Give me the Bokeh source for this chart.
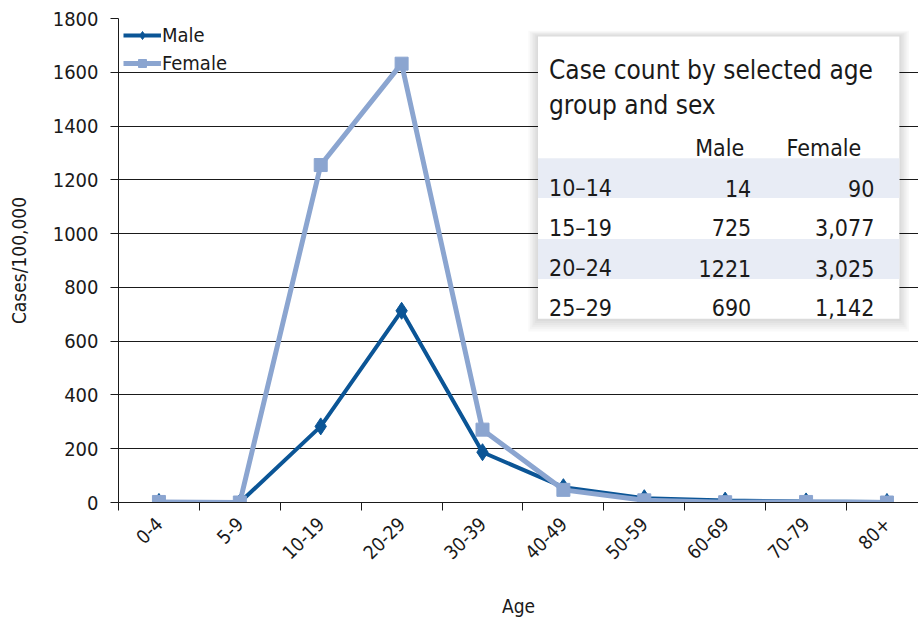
from bokeh.plotting import figure
from bokeh.models import (Range1d, FixedTicker, Legend, LegendItem, ColumnDataSource)
from bokeh.core.properties import value
from bokeh.embed import file_html
from bokeh.resources import INLINE
import math

# ---- data ----
age_groups = ["0-4", "5-9", "10-19", "20-29", "30-39", "40-49", "50-59", "60-69", "70-79", "80+"]
male_rate = [2, 0, 283, 713, 187, 57, 16, 7, 4, 2]
female_rate = [2, 0, 1255, 1632, 271, 47, 8, 1, 2, 0]
y_ticks = [0, 200, 400, 600, 800, 1000, 1200, 1400, 1600, 1800]

table_title = ["Case count by selected age", "group and sex"]
table_columns = ["Male", "Female"]
table_rows = ["10\u201314", "15\u201319", "20\u201324", "25\u201329"]
table_male = ["14", "725", "1221", "690"]
table_female = ["90", "3,077", "3,025", "1,142"]

FONT = "DejaVu Sans Condensed"
MALE_C = "#0b5596"
FEMALE_C = "#8ba5d0"
INK = "#1a1a1a"

xs = list(range(len(age_groups)))

p = figure(width=918, height=619, output_backend="svg", toolbar_location=None,
           x_range=Range1d(-0.5, 9.39), y_range=Range1d(0, 1800),
           min_border_left=118, min_border_right=0, min_border_top=18, min_border_bottom=116)
p.outline_line_color = None
p.background_fill_color = "white"

# grid
p.xgrid.grid_line_color = None
p.ygrid.grid_line_color = INK
p.ygrid.grid_line_width = 1
p.ygrid.ticker = FixedTicker(ticks=y_ticks)

# y axis
p.yaxis.ticker = FixedTicker(ticks=y_ticks)
p.yaxis.axis_line_color = INK
p.yaxis.major_tick_line_color = INK
p.yaxis.major_tick_out = 8
p.yaxis.major_tick_in = 0
p.yaxis.minor_tick_line_color = None
p.yaxis.major_label_text_font = FONT
p.yaxis.major_label_text_font_size = "20px"
p.yaxis.major_label_text_color = INK
p.yaxis.major_label_standoff = 12
p.yaxis.axis_label = "Cases/100,000"
p.yaxis.axis_label_text_font = FONT
p.yaxis.axis_label_text_font_size = "19px"
p.yaxis.axis_label_text_font_style = "normal"
p.yaxis.axis_label_text_color = INK
p.yaxis.axis_label_standoff = 20

# x axis
p.xaxis.ticker = FixedTicker(ticks=xs, minor_ticks=[i - 0.5 for i in range(len(age_groups) + 1)])
p.xaxis.major_label_overrides = {i: g for i, g in enumerate(age_groups)}
p.xaxis.axis_line_color = INK
p.xaxis.major_tick_line_color = None
p.xaxis.minor_tick_line_color = INK
p.xaxis.minor_tick_out = 8
p.xaxis.minor_tick_in = 0
p.xaxis.major_label_orientation = math.pi / 4
p.xaxis.major_label_text_font = FONT
p.xaxis.major_label_text_font_size = "19px"
p.xaxis.major_label_text_color = INK
p.xaxis.major_label_standoff = 10
p.xaxis.axis_label = "Age"
p.xaxis.axis_label_text_font = FONT
p.xaxis.axis_label_text_font_size = "19px"
p.xaxis.axis_label_text_font_style = "normal"
p.xaxis.axis_label_text_color = INK
p.xaxis.axis_label_standoff = 26

# series
src = ColumnDataSource(dict(x=xs, male=male_rate, female=female_rate))
ml = p.line("x", "male", source=src, line_color=MALE_C, line_width=4)
ms = p.scatter("x", "male", source=src, marker="diamond", size=17, fill_color=MALE_C, line_color=MALE_C)
fl = p.line("x", "female", source=src, line_color=FEMALE_C, line_width=5)
fs = p.scatter("x", "female", source=src, marker="square", size=13, fill_color=FEMALE_C, line_color=FEMALE_C)

legend = Legend(items=[LegendItem(label="Male", renderers=[ml, ms]),
                       LegendItem(label="Female", renderers=[fl, fs])],
                location="top_left")
legend.background_fill_alpha = 0
legend.border_line_color = None
legend.label_text_font = FONT
legend.label_text_font_size = "20px"
legend.label_text_color = INK
legend.glyph_width = 38
legend.glyph_height = 20
legend.label_standoff = 1
legend.spacing = 4
legend.padding = 4
legend.margin = 5
p.add_layout(legend)

# ---- inset table (drawn in data coordinates) ----
bx0, bx1, by0, by1 = 4.686, 9.153, 683, 1733
for k in range(6, 0, -1):
    dx = k * 0.02
    dy = k * 6
    p.quad(left=bx0 - dx, right=bx1 + dx, bottom=by0 - dy * 1.3, top=by1 + dy * 0.6,
           fill_color="black", fill_alpha=0.025, line_color=None)
p.quad(left=bx0, right=bx1, bottom=by0, top=by1, fill_color="white", line_color=None)
p.quad(left=[bx0, bx0], right=[bx1, bx1], bottom=[1132, 831], top=[1280, 980],
       fill_color="#e8ecf5", line_color=None)

title_y = [1607, 1477]
p.text(x=[4.822] * len(table_title), y=title_y, text=table_title,
       text_font=value(FONT), text_font_size="26px", text_color=INK,
       text_baseline="alphabetic", text_align="left")
p.text(x=[7.235, 8.683], y=[1318, 1318], text=table_columns,
       text_font=value(FONT), text_font_size="23px", text_color=INK,
       text_baseline="alphabetic", text_align="right")
row_y = [1169, 1021, 872, 724]
p.text(x=[4.822] * len(table_rows), y=row_y, text=table_rows,
       text_font=value(FONT), text_font_size="23px", text_color=INK,
       text_baseline="alphabetic", text_align="left")
p.text(x=[7.322] * len(table_male), y=row_y, text=table_male,
       text_font=value(FONT), text_font_size="23px", text_color=INK,
       text_baseline="alphabetic", text_align="right")
p.text(x=[8.844] * len(table_female), y=row_y, text=table_female,
       text_font=value(FONT), text_font_size="23px", text_color=INK,
       text_baseline="alphabetic", text_align="right")

open("out.html", "w").write(file_html(p, INLINE))
